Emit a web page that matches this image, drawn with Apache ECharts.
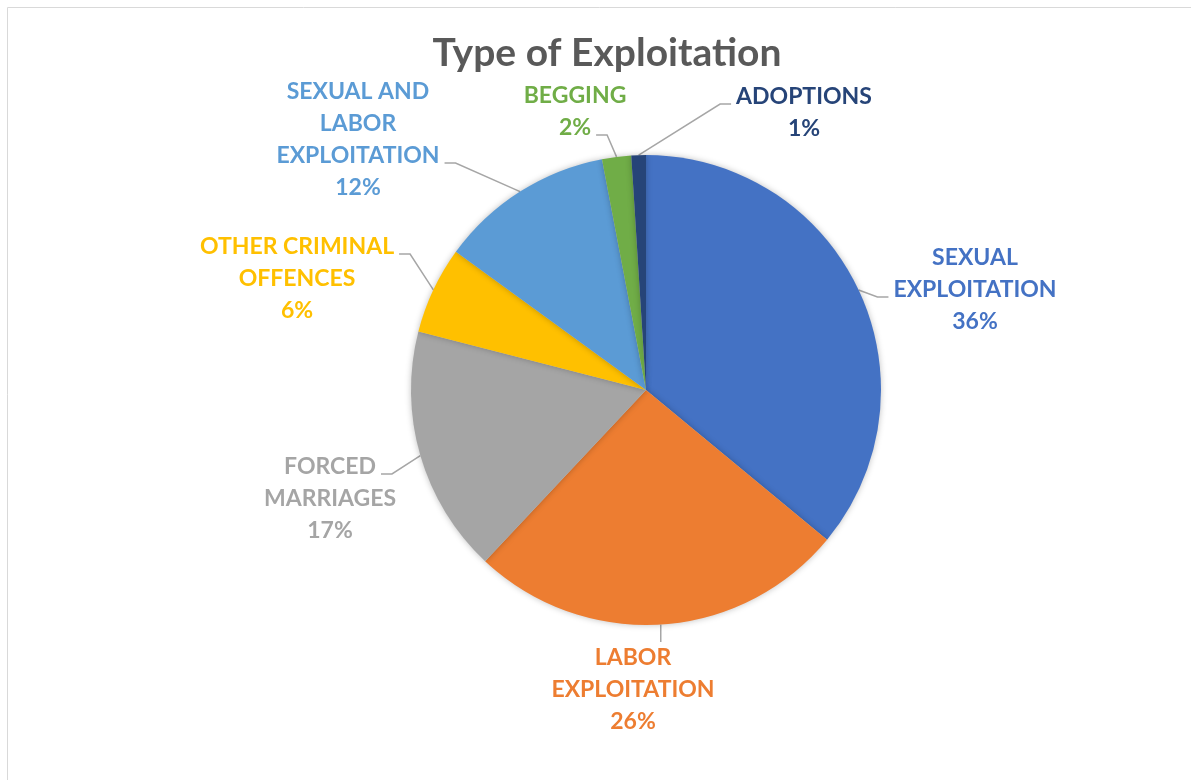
<!DOCTYPE html>
<html>
<head>
<meta charset="utf-8">
<script src="https://cdn.jsdelivr.net/npm/echarts@6/dist/echarts.min.js"></script>
<style>
html,body{margin:0;padding:0;background:#fff;}
#c{width:1191px;height:780px;}
</style>
</head>
<body>
<div id="c"></div>
<script>
var categories = [
  'SEXUAL\nEXPLOITATION',
  'LABOR\nEXPLOITATION',
  'FORCED\nMARRIAGES',
  'OTHER CRIMINAL\nOFFENCES',
  'SEXUAL AND\nLABOR\nEXPLOITATION',
  'BEGGING',
  'ADOPTIONS'
];
var values = [36, 26, 17, 6, 12, 2, 1];
var colors = ['#4472C4', '#ED7D31', '#A5A5A5', '#FFC000', '#5B9BD5', '#70AD47', '#264478'];
// label anchor positions (layout only)
var labelPos = [[975, 290], [633, 690], [330, 499], [297, 279], [358, 140], [575, 112], [804, 113]];
// leader line attachment: side, text line index
var attach = [['left', 1], ['top', 0], ['right', 0], ['right', 0], ['right', 2], ['right', 1], ['left', 0]];

var FONT_SIZE = 23, LINE_H = 32, FONT_FAMILY = 'Lato';
var ctx = document.createElement('canvas').getContext('2d');
ctx.font = 'bold ' + FONT_SIZE + 'px ' + FONT_FAMILY;

var chart = echarts.init(document.getElementById('c'));
var data = categories.map(function (n, i) {
  return {
    name: n,
    value: values[i],
    itemStyle: { color: colors[i] },
    label: { color: colors[i] }
  };
});
chart.setOption({
  animation: false,
  title: {
    text: 'Type of Exploitation',
    left: 602,
    textAlign: 'center',
    top: 29,
    textStyle: { fontFamily: FONT_FAMILY, fontWeight: 'bold', fontSize: 39, color: '#595959' }
  },
  graphic: [{
    type: 'rect',
    shape: { x: 7.5, y: 7.5, width: 1200, height: 800 },
    style: { fill: 'none', stroke: '#d9d9d9', lineWidth: 1 },
    silent: true
  }],
  series: [{
    type: 'pie',
    center: [646, 390],
    radius: 235,
    startAngle: 90,
    clockwise: true,
    data: data,
    itemStyle: { shadowBlur: 6, shadowColor: 'rgba(0,0,0,0.25)', borderWidth: 0 },
    label: {
      show: true,
      position: 'outside',
      formatter: '{b}\n{c}%',
      fontFamily: FONT_FAMILY,
      fontWeight: 'bold',
      fontSize: FONT_SIZE,
      lineHeight: LINE_H,
      align: 'center'
    },
    labelLine: {
      show: true,
      length: 10,
      length2: 10,
      lineStyle: { color: '#A6A6A6', width: 1.5 }
    },
    labelLayout: function (p) {
      var i = p.dataIndex;
      var pos = labelPos[i];
      var lines = (categories[i] + '\n' + values[i] + '%').split('\n');
      var top = pos[1] - lines.length * LINE_H / 2;
      var a = attach[i];
      var start = p.labelLinePoints ? p.labelLinePoints[0] : null;
      var pts;
      if (start) {
        if (a[0] === 'top') {
          var end = [start[0], top];
          pts = [start, [start[0], (start[1] + end[1]) / 2], end];
        } else {
          var w = ctx.measureText(lines[a[1]]).width;
          var y = top + a[1] * LINE_H + LINE_H / 2 + 7;
          var x = a[0] === 'left' ? pos[0] - w / 2 - 5 : pos[0] + w / 2 + 5;
          var x1 = a[0] === 'left' ? x - 11 : x + 11;
          pts = [start, [x1, y], [x, y]];
        }
      }
      var r = { x: pos[0], y: pos[1], align: 'center', verticalAlign: 'middle' };
      if (pts) r.labelLinePoints = pts;
      return r;
    },
    emphasis: { disabled: true }
  }]
});
</script>
</body>
</html>
